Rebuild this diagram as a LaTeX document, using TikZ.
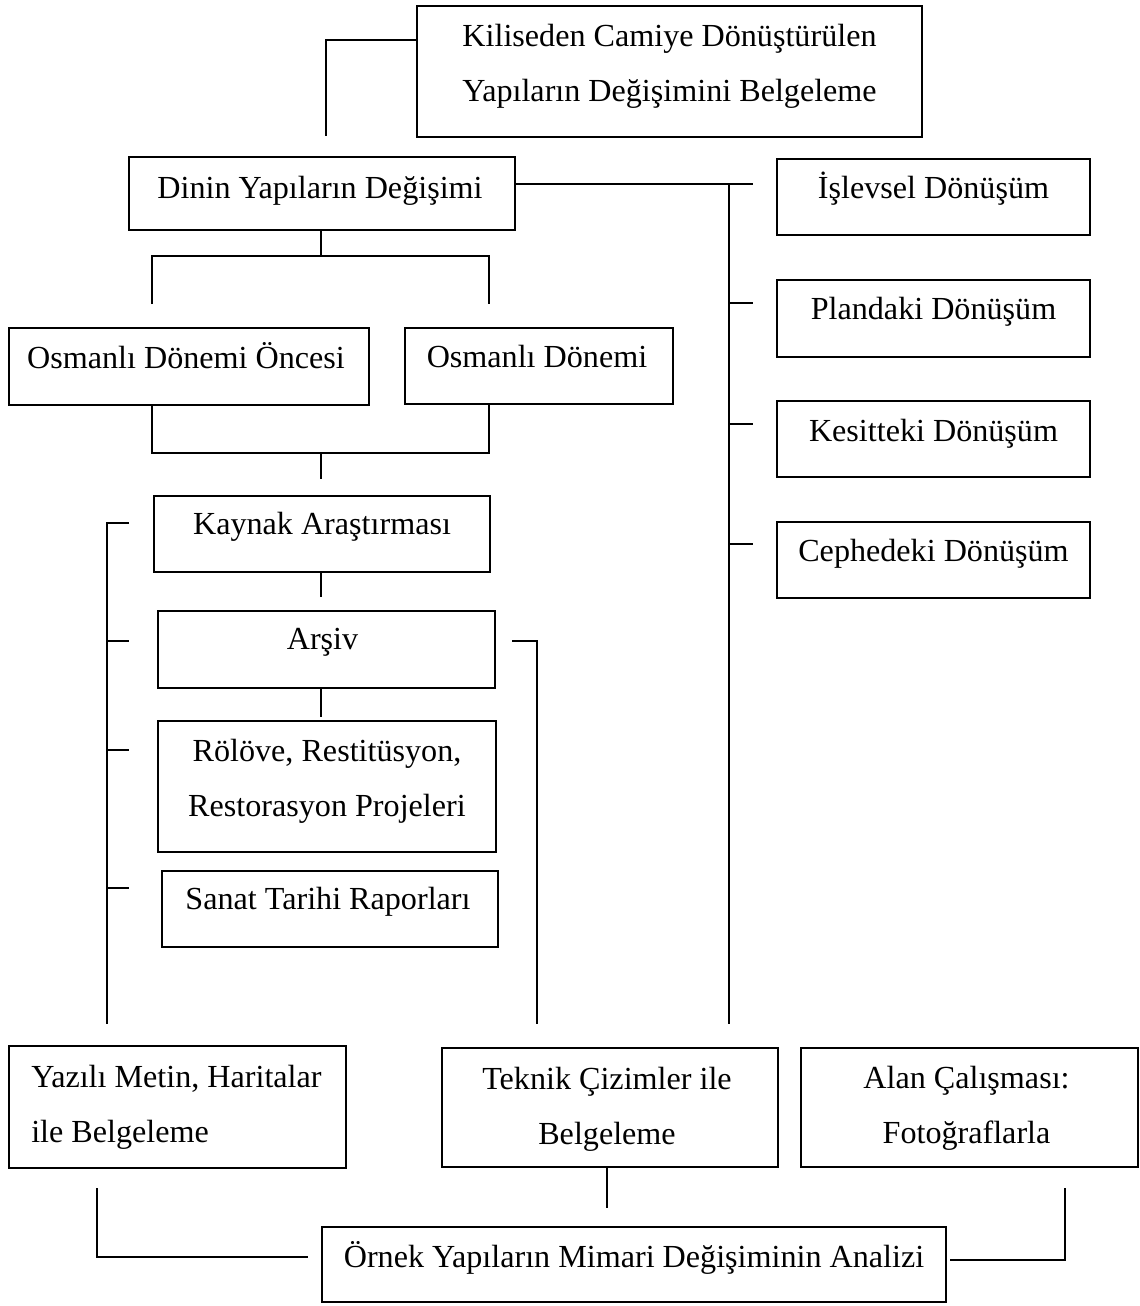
\documentclass[tikz,border=0pt]{standalone}
\usepackage{fontspec}
\setmainfont{Liberation Serif}
\usetikzlibrary{fit,calc}
\begin{document}
\begin{tikzpicture}[x=0.75pt,y=-0.75pt,
  box/.style={draw,line width=1.3pt,inner sep=0pt},
  txt/.style={font=\fontsize{24.1}{41.25}\selectfont,inner sep=0pt,align=center},
  conn/.style={line width=2.1pt}]
\fill[white] (0,0) rectangle (1139,1306);
\useasboundingbox (0,0) rectangle (1139,1306);
% boxes (anchor=base of a two-line text is the baseline of its last line)
\node[box,fit={(417,6)(922,137)}] (kil) {};
\node[txt,anchor=base] (kilt) at ($(kil.north)+(0,96)$) {Kiliseden Camiye Dönüştürülen\\Yapıların Değişimini Belgeleme};
\node[box,fit={(129,157)(515,230)}] (din) {};
\node[txt,anchor=base] (dint) at ($(din.north)+(-2,42)$) {Dinin Yapıların Değişimi};
\node[box,fit={(9,328)(369,405)}] (onc) {};
\node[txt,anchor=base] (onct) at ($(onc.north)+(-3,41)$) {Osmanlı Dönemi Öncesi};
\node[box,fit={(405,328)(673,404)}] (osm) {};
\node[txt,anchor=base] (osmt) at ($(osm.north)+(-2,40)$) {Osmanlı Dönemi};
\node[box,fit={(154,496)(490,572)}] (kay) {};
\node[txt,anchor=base] (kayt) at ($(kay.north)+(0,39)$) {Kaynak Araştırması};
\node[box,fit={(158,611)(495,688)}] (ars) {};
\node[txt,anchor=base] (arst) at ($(ars.north)+(-4,39)$) {Arşiv};
\node[box,fit={(158,721)(496,852)}] (rol) {};
\node[txt,anchor=base] (rolt) at ($(rol.north)+(0,96)$) {Rölöve, Restitüsyon,\\Restorasyon Projeleri};
\node[box,fit={(162,871)(498,947)}] (san) {};
\node[txt,anchor=base] (sant) at ($(san.north)+(-2,39)$) {Sanat Tarihi Raporları};
\node[box,fit={(777,159)(1090,235)}] (isl) {};
\node[txt,anchor=base] (islt) at ($(isl.north)+(0,40)$) {İşlevsel Dönüşüm};
\node[box,fit={(777,280)(1090,357)}] (pla) {};
\node[txt,anchor=base] (plat) at ($(pla.north)+(0,40)$) {Plandaki Dönüşüm};
\node[box,fit={(777,401)(1090,477)}] (kes) {};
\node[txt,anchor=base] (kest) at ($(kes.north)+(0,41)$) {Kesitteki Dönüşüm};
\node[box,fit={(777,522)(1090,598)}] (cep) {};
\node[txt,anchor=base] (cept) at ($(cep.north)+(0,40)$) {Cephedeki Dönüşüm};
\node[box,fit={(9,1046)(346,1168)}] (yaz) {};
\node[txt,anchor=base west,align=left] (yazt) at (31,1142) {Yazılı Metin, Haritalar\\ile Belgeleme};
\node[box,fit={(442,1048)(778,1167)}] (tek) {};
\node[txt,anchor=base] (tekt) at ($(tek.north)+(-3,97)$) {Teknik Çizimler ile\\Belgeleme};
\node[box,fit={(801,1048)(1138,1167)}] (ala) {};
\node[txt,anchor=base] (alat) at ($(ala.north)+(-3,96)$) {Alan Çalışması:\\Fotoğraflarla};
\node[box,fit={(322,1227)(946,1302)}] (orn) {};
\node[txt,anchor=base] (ornt) at ($(orn.north)+(0,41)$) {Örnek Yapıların Mimari Değişiminin Analizi};
% connector points
\coordinate (c1) at (326,40); \coordinate (c1e) at (326,136);
\coordinate (b1) at (321,256); \coordinate (b1l) at (152,256); \coordinate (b1r) at (489,256);
\coordinate (b1le) at (152,304); \coordinate (b1re) at (489,304);
\coordinate (b2l) at (152,453); \coordinate (b2r) at (489,453);
\coordinate (b2c) at (321,453); \coordinate (b2ce) at (321,479);
\coordinate (k1) at (321,597); \coordinate (a1) at (321,717);
\coordinate (l0) at (107,523); \coordinate (l0s) at (129,523); \coordinate (l1) at (107,1024);
\coordinate (r0) at (753,184); \coordinate (rv) at (729,184); \coordinate (rve) at (729,1024);
\coordinate (q0) at (512,641); \coordinate (q1) at (537,641); \coordinate (q2) at (537,1024);
\coordinate (y1) at (97,1188); \coordinate (y2) at (97,1257); \coordinate (y3) at (308,1257);
\coordinate (t1) at (607,1208);
\coordinate (z1) at (950,1260); \coordinate (z2) at (1065,1260); \coordinate (z3) at (1065,1188);
% connectors
\draw[conn] (kil.west |- c1) -- (c1) -- (c1e);
\draw[conn] (din.south -| b1) -- (b1);
\draw[conn] (b1le) -- (b1l) -- (b1r) -- (b1re);
\draw[conn] (onc.south -| b2l) -- (b2l) -- (b2r) -- (osm.south -| b2r);
\draw[conn] (b2c) -- (b2ce);
\draw[conn] (kay.south -| k1) -- (k1);
\draw[conn] (ars.south -| a1) -- (a1);
\draw[conn] (l0s) -- (l0) -- (l1);
\foreach \yy in {641,750,888} \draw[conn] (107,\yy) -- (129,\yy);
\draw[conn] (q0) -- (q1) -- (q2);
\draw[conn] (din.east |- r0) -- (r0);
\draw[conn] (rv) -- (rve);
\foreach \yy in {303,424,544} \draw[conn] (729,\yy) -- (753,\yy);
\draw[conn] (y1) -- (y2) -- (y3);
\draw[conn] (tek.south -| t1) -- (t1);
\draw[conn] (z1) -- (z2) -- (z3);
\end{tikzpicture}
\end{document}
